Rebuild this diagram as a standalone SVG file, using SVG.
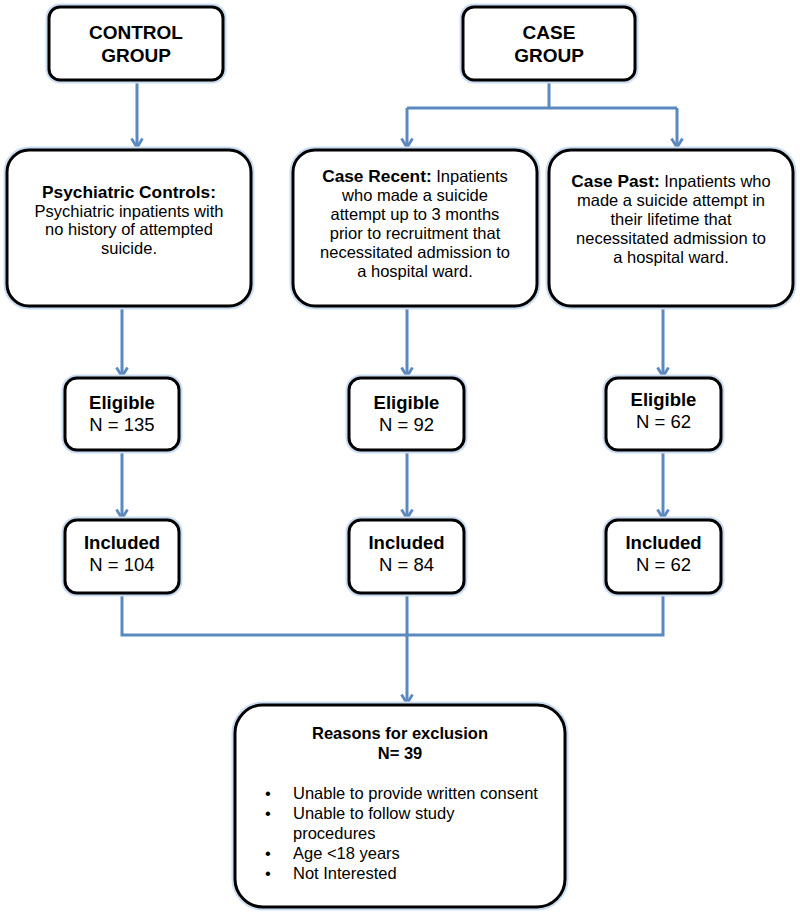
<svg xmlns="http://www.w3.org/2000/svg" width="800" height="914" viewBox="0 0 800 914">
<style>
.halo{fill:none;stroke:#c9dcf2;stroke-width:7}
.box{fill:#ffffff;stroke:#000000;stroke-width:3}
.t{font-family:"Liberation Sans",Arial,sans-serif;fill:#000000;text-anchor:middle}
.b{font-weight:bold}
.bb{font-weight:bold;font-size:17.3px}
.s165{font-size:16.5px}
.s18{font-size:18px}
.s185{font-size:18.5px}
.s19{font-size:19px}
.con{fill:none;stroke:#5b89bf;stroke-width:3;stroke-linejoin:miter}
.lft{text-anchor:start}
</style>
<defs>
<marker id="arr" viewBox="0 0 12 14" refX="10.5" refY="7" markerWidth="12" markerHeight="14" markerUnits="userSpaceOnUse" orient="auto">
<path d="M1,1.5 L10,7 L1,12.5" fill="none" stroke="#5b89bf" stroke-width="2.8"/>
</marker>
</defs>
<g id="connectors">
<path class="con" d="M137,80 V148" marker-end="url(#arr)"/>
<path class="con" d="M549,80 V108 M407,108 H677"/>
<path class="con" d="M407,108 V148" marker-end="url(#arr)"/>
<path class="con" d="M677,108 V148" marker-end="url(#arr)"/>
<path class="con" d="M122,306 V377" marker-end="url(#arr)"/>
<path class="con" d="M407,306 V377" marker-end="url(#arr)"/>
<path class="con" d="M663,306 V377" marker-end="url(#arr)"/>
<path class="con" d="M122,450 V519" marker-end="url(#arr)"/>
<path class="con" d="M407,450 V519" marker-end="url(#arr)"/>
<path class="con" d="M663,450 V519" marker-end="url(#arr)"/>
<path class="con" d="M122,593 V635 H663 V593"/>
<path class="con" d="M407,593 V704" marker-end="url(#arr)"/>
</g>
<g id="control-group">
<rect class="halo" x="49" y="7" width="174" height="73" rx="11"/>
<rect class="box" x="49" y="7" width="174" height="73" rx="11"/>
<text class="t b s19" x="136" y="39">CONTROL</text>
<text class="t b s19" x="136" y="62">GROUP</text>
</g>
<g id="case-group">
<rect class="halo" x="463" y="7" width="172" height="73" rx="11"/>
<rect class="box" x="463" y="7" width="172" height="73" rx="11"/>
<text class="t b s19" x="549" y="39">CASE</text>
<text class="t b s19" x="549" y="62">GROUP</text>
</g>
<g id="psychiatric-controls">
<rect class="halo" x="7" y="150" width="244" height="156" rx="22"/>
<rect class="box" x="7" y="150" width="244" height="156" rx="22"/>
<text class="t bb" x="129" y="198">Psychiatric Controls:</text>
<text class="t s165" x="129" y="216.5">Psychiatric inpatients with</text>
<text class="t s165" x="129" y="235">no history of attempted</text>
<text class="t s165" x="129" y="253.5">suicide.</text>
</g>
<g id="case-recent">
<rect class="halo" x="293" y="150" width="244" height="156" rx="22"/>
<rect class="box" x="293" y="150" width="244" height="156" rx="22"/>
<text class="t s165" x="415" y="182"><tspan class="bb">Case Recent:</tspan> Inpatients</text>
<text class="t s165" x="415" y="201">who made a suicide</text>
<text class="t s165" x="415" y="220">attempt up to 3 months</text>
<text class="t s165" x="415" y="239">prior to recruitment that</text>
<text class="t s165" x="415" y="258">necessitated admission to</text>
<text class="t s165" x="415" y="276.5">a hospital ward.</text>
</g>
<g id="case-past">
<rect class="halo" x="549" y="150" width="244" height="156" rx="22"/>
<rect class="box" x="549" y="150" width="244" height="156" rx="22"/>
<text class="t s165" x="671" y="187"><tspan class="bb">Case Past:</tspan> Inpatients who</text>
<text class="t s165" x="671" y="206">made a suicide attempt in</text>
<text class="t s165" x="671" y="225">their lifetime that</text>
<text class="t s165" x="671" y="244">necessitated admission to</text>
<text class="t s165" x="671" y="263">a hospital ward.</text>
</g>
<g id="eligible-control">
<rect class="halo" x="65" y="378" width="114" height="72" rx="12"/>
<rect class="box" x="65" y="378" width="114" height="72" rx="12"/>
<text class="t b s185" x="122" y="409">Eligible</text>
<text class="t s185" x="122" y="431">N = 135</text>
</g>
<g id="eligible-recent">
<rect class="halo" x="349" y="378" width="115" height="72" rx="12"/>
<rect class="box" x="349" y="378" width="115" height="72" rx="12"/>
<text class="t b s185" x="406.5" y="409">Eligible</text>
<text class="t s185" x="406.5" y="431">N = 92</text>
</g>
<g id="eligible-past">
<rect class="halo" x="606" y="378" width="115" height="72" rx="12"/>
<rect class="box" x="606" y="378" width="115" height="72" rx="12"/>
<text class="t b s185" x="663.5" y="406">Eligible</text>
<text class="t s185" x="663.5" y="428">N = 62</text>
</g>
<g id="included-control">
<rect class="halo" x="65" y="520" width="114" height="73" rx="12"/>
<rect class="box" x="65" y="520" width="114" height="73" rx="12"/>
<text class="t b s185" x="122" y="549">Included</text>
<text class="t s185" x="122" y="571">N = 104</text>
</g>
<g id="included-recent">
<rect class="halo" x="349" y="520" width="115" height="73" rx="12"/>
<rect class="box" x="349" y="520" width="115" height="73" rx="12"/>
<text class="t b s185" x="406.5" y="549">Included</text>
<text class="t s185" x="406.5" y="571">N = 84</text>
</g>
<g id="included-past">
<rect class="halo" x="606" y="520" width="115" height="73" rx="12"/>
<rect class="box" x="606" y="520" width="115" height="73" rx="12"/>
<text class="t b s185" x="663.5" y="549">Included</text>
<text class="t s185" x="663.5" y="571">N = 62</text>
</g>
<g id="reasons-for-exclusion">
<rect class="halo" x="235" y="705" width="330" height="202" rx="28"/>
<rect class="box" x="235" y="705" width="330" height="202" rx="28"/>
<text class="t b s165" x="400" y="739">Reasons for exclusion</text>
<text class="t b s165" x="400" y="759">N= 39</text>
<text class="t s165" x="268" y="799">•</text>
<text class="t s165 lft" x="293" y="799">Unable to provide written consent</text>
<text class="t s165" x="268" y="819">•</text>
<text class="t s165 lft" x="293" y="819">Unable to follow study</text>
<text class="t s165 lft" x="293" y="839">procedures</text>
<text class="t s165" x="268" y="859">•</text>
<text class="t s165 lft" x="293" y="859">Age &lt;18 years</text>
<text class="t s165" x="268" y="879">•</text>
<text class="t s165 lft" x="293" y="879">Not Interested</text>
</g>
</svg>
